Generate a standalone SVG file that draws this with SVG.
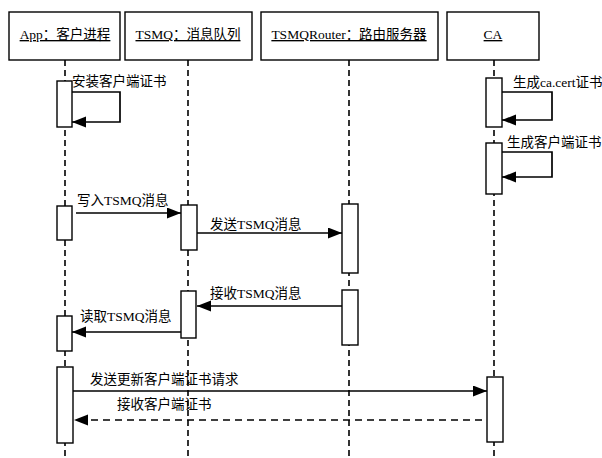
<svg xmlns="http://www.w3.org/2000/svg" width="602" height="458" viewBox="0 0 602 458">
<defs>
<marker id="ah" markerUnits="userSpaceOnUse" markerWidth="15" markerHeight="12" refX="14" refY="5.5" orient="auto">
<path d="M0,0 L14,5.5 L0,11 z" fill="#000"/>
</marker>
</defs>
<style>
.box{fill:#fff;stroke:#000;stroke-width:1.4}
.life{stroke:#000;stroke-width:1.6;stroke-dasharray:6,4;fill:none}
.bar{fill:#fff;stroke:#000;stroke-width:1.4}
.msg{stroke:#000;stroke-width:1.7;fill:none;marker-end:url(#ah)}
.dash{stroke-dasharray:7,5}
text{font-family:"Liberation Serif","Noto Sans CJK SC",serif;font-size:13.5px;fill:#000}
.hdr{text-anchor:middle;text-decoration:underline;font-size:13.5px}
</style>
<rect width="602" height="458" fill="#fff"/>
<g id="lifelines">
<line class="life" x1="65" y1="60" x2="65" y2="458"/>
<line class="life" x1="188" y1="60" x2="188" y2="458"/>
<line class="life" x1="349" y1="60" x2="349" y2="458"/>
<line class="life" x1="494" y1="60" x2="494" y2="458"/>
</g>
<g id="app">
<rect class="box" x="9" y="12" width="111" height="48"/>
<text class="hdr" x="65" y="39">App：客户进程</text>
<rect class="bar" x="57" y="81" width="15" height="46"/>
<rect class="bar" x="57" y="206" width="15" height="34"/>
<rect class="bar" x="57" y="316" width="15" height="35"/>
<rect class="bar" x="57" y="367" width="16" height="76"/>
</g>
<g id="tsmq">
<rect class="box" x="125" y="12" width="127" height="48"/>
<text class="hdr" x="188" y="39">TSMQ：消息队列</text>
<rect class="bar" x="181" y="205" width="16" height="45"/>
<rect class="bar" x="181" y="291" width="15" height="47"/>
</g>
<g id="router">
<rect class="box" x="261" y="12" width="177" height="48"/>
<text class="hdr" x="349" y="39">TSMQRouter：路由服务器</text>
<rect class="bar" x="342" y="204" width="16" height="69"/>
<rect class="bar" x="342" y="290" width="16" height="55"/>
</g>
<g id="ca">
<rect class="box" x="447" y="12" width="92" height="48"/>
<text class="hdr" x="493" y="39">CA</text>
<rect class="bar" x="486" y="78" width="16" height="49"/>
<rect class="bar" x="486" y="143" width="16" height="51"/>
<rect class="bar" x="487" y="377" width="16" height="65"/>
</g>
<g id="connectors">
<path class="msg" d="M72,92 H120 V122 H72"/>
<text x="72" y="86">安装客户端证书</text>
<path class="msg" d="M502,92 H552 V120 H502"/>
<text x="513" y="87">生成ca.cert证书</text>
<path class="msg" d="M502,152 H552 V177 H502"/>
<text x="507" y="147">生成客户端证书</text>
<path class="msg" d="M76,213 H181"/>
<text x="77" y="205">写入TSMQ消息</text>
<path class="msg" d="M197,233 H342"/>
<text x="210" y="229">发送TSMQ消息</text>
<path class="msg" d="M342,306 H197"/>
<text x="210" y="298">接收TSMQ消息</text>
<path class="msg" d="M181,332 H72"/>
<text x="80" y="321">读取TSMQ消息</text>
<path class="msg" d="M73,391 H487"/>
<text x="90" y="384">发送更新客户端证书请求</text>
<path class="msg dash" d="M482,420 H74"/>
<text x="117" y="409">接收客户端证书</text>
</g>
</svg>
